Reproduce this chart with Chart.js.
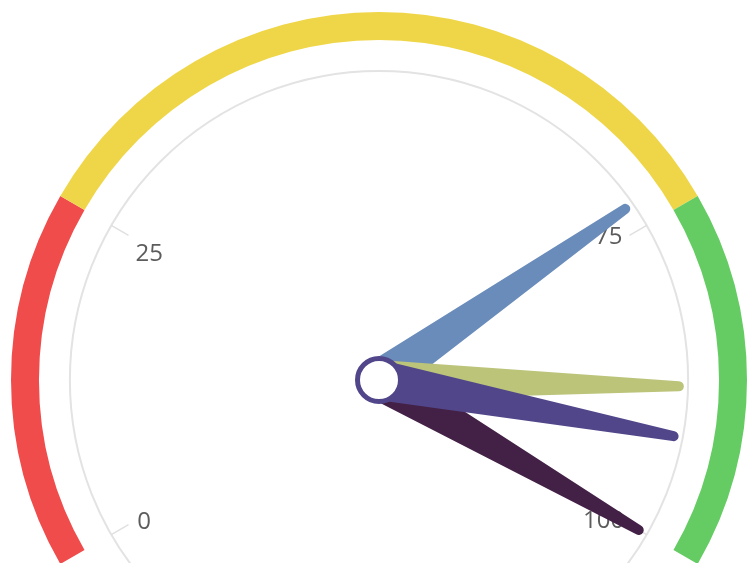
<!DOCTYPE html>
<html>
<head>
<meta charset="utf-8">
<script src="https://cdn.jsdelivr.net/npm/chart.js@4/dist/chart.umd.min.js"></script>
<style>
html, body { margin: 0; padding: 0; background: #fff; overflow: hidden; }
#wrap { width: 752px; height: 565px; position: relative; }
</style>
</head>
<body>
<div id="wrap"><canvas id="chart"></canvas></div>
<script>
// gauge bands (value where each band ends)
const bandEnds = [25, 75, 100];
const bandColors = ["#f04c4c", "#efd648", "#65cc64"];

// axis
const tickValues = [0, 25, 75, 100];
const tickLabels = ["0", "25", "75", "100"];

// needles (drawn in this order, last on top)
const needleValues = [73, 88, 100, 92];
const needleColors = ["#6a8cba", "#bcc47a", "#432045", "#51468a"];

const bandSizes = bandEnds.map((v, i) => v - (i ? bandEnds[i - 1] : 0));

const gaugePlugin = {
  id: "gauge",
  afterDatasetsDraw(chart) {
    const ctx = chart.ctx;
    const arcs = chart.getDatasetMeta(0).data;
    const cx = arcs[0].x, cy = arcs[0].y, R = arcs[0].outerRadius;
    const a0 = arcs[0].startAngle, a1 = arcs[arcs.length - 1].endAngle;
    const ang = v => a0 + (a1 - a0) * v / 100;

    ctx.save();
    // thin axis circle
    ctx.strokeStyle = "#e3e3e3";
    ctx.lineWidth = 2;
    ctx.beginPath();
    ctx.arc(cx, cy, R * 0.84, 0, Math.PI * 2);
    ctx.stroke();

    // ticks + labels
    ctx.font = "24px 'Open Sans'";
    ctx.fillStyle = "#5c5c5c";
    ctx.textAlign = "center";
    ctx.textBaseline = "middle";
    tickValues.forEach((v, i) => {
      const a = ang(v), c = Math.cos(a), s = Math.sin(a);
      ctx.strokeStyle = "#e0e0e0";
      ctx.lineWidth = 1.5;
      ctx.beginPath();
      ctx.moveTo(cx + c * R * 0.84, cy + s * R * 0.84);
      ctx.lineTo(cx + c * R * 0.786, cy + s * R * 0.786);
      ctx.stroke();
      const w = ctx.measureText(tickLabels[i]).width, h = 17;
      const ext = w / 2 * Math.abs(c) + h / 2 * Math.abs(s);
      const r = R * 0.765 - ext;
      // labels sit a little off the radial line, like the original
      const dy = 2.5 + 10 * s - 3.5 * c + 12.7 * s * c;
      ctx.fillText(tickLabels[i], cx + c * r, cy + s * r + 1 + dy);
    });

    // needles
    const len = R * 0.815, hb = 20, ht = 5;
    needleValues.forEach((v, i) => {
      const a = ang(v), c = Math.cos(a), s = Math.sin(a);
      const px = -s, py = c;
      const tx = cx + c * len, ty = cy + s * len;
      ctx.fillStyle = needleColors[i];
      ctx.beginPath();
      ctx.moveTo(cx + px * hb, cy + py * hb);
      ctx.lineTo(tx + px * ht, ty + py * ht);
      ctx.arc(tx, ty, ht, a + Math.PI / 2, a - Math.PI / 2, true);
      ctx.lineTo(cx - px * hb, cy - py * hb);
      ctx.closePath();
      ctx.fill();
    });

    // hub
    ctx.beginPath();
    ctx.arc(cx, cy, 21.5, 0, Math.PI * 2);
    ctx.fillStyle = "#fff";
    ctx.fill();
    ctx.lineWidth = 5;
    ctx.strokeStyle = "#51468a";
    ctx.stroke();
    ctx.restore();
  }
};

new Chart(document.getElementById("chart"), {
  type: "doughnut",
  data: {
    labels: bandEnds.map(String),
    datasets: [{
      data: bandSizes,
      backgroundColor: bandColors,
      borderWidth: 0
    }]
  },
  options: {
    responsive: true,
    maintainAspectRatio: false,
    animation: false,
    events: [],
    rotation: -120,
    circumference: 240,
    cutout: "92.4%",
    layout: { padding: { top: 12, bottom: 1, left: 11, right: 5 } },
    plugins: { legend: { display: false }, tooltip: { enabled: false } }
  },
  plugins: [gaugePlugin]
});
</script>
</body>
</html>
